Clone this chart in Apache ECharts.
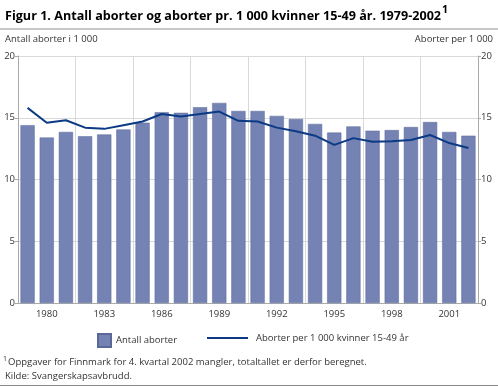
<!DOCTYPE html>
<html><head><meta charset="utf-8">
<script src="https://cdn.jsdelivr.net/npm/echarts@6/dist/echarts.min.js"></script>
<style>html,body{margin:0;padding:0;background:#fff}#c{width:498px;height:386px}</style>
</head><body><div id="c"></div>
<script>
var years = ['1979','1980','1981','1982','1983','1984','1985','1986','1987','1988','1989','1990','1991','1992','1993','1994','1995','1996','1997','1998','1999','2000','2001','2002'];
var antallAborter = [14.4,13.4,13.85,13.5,13.65,14.05,14.6,15.45,15.4,15.85,16.2,15.55,15.55,15.15,14.9,14.5,13.8,14.3,13.95,14.0,14.25,14.65,13.85,13.55];
var aborterPer1000 = [15.8,14.6,14.8,14.2,14.1,14.4,14.7,15.3,15.1,15.3,15.5,14.75,14.7,14.2,13.9,13.55,12.8,13.35,13.05,13.1,13.2,13.6,12.95,12.55];
var yTicks = [0,5,10,15,20];
var FONT = 'Open Sans';
var SMALL = 9.5;
var chart = echarts.init(document.getElementById('c'));
chart.setOption({
  animation:false,
  textStyle:{fontFamily:FONT},
  grid:{left:18,right:20,top:56,bottom:83},
  graphic:[
    {type:'text',left:5,top:5,style:{
      text:'{t|Figur 1. Antall aborter og aborter pr. 1 000 kvinner 15-49 år. 1979-2002}{s|1}',
      rich:{t:{fontFamily:FONT,fontWeight:'bold',fontSize:12.6,fill:'#000',verticalAlign:'bottom',lineHeight:18},
            s:{fontFamily:FONT,fontWeight:'bold',fontSize:10.5,fill:'#000',verticalAlign:'top',padding:[0,0,7,1],lineHeight:18}}}},
    {type:'rect',shape:{x:0,y:28,width:498,height:2},style:{fill:'#c8c8c8'}},
    {type:'text',left:5,top:34,style:{text:'Antall aborter i 1 000',font:SMALL+'px "Open Sans"',fill:'#333'}},
    {type:'text',right:5,top:34,style:{text:'Aborter per 1 000',font:SMALL+'px "Open Sans"',fill:'#333'}},
    {type:'text',left:3,top:355,style:{text:'1',font:'7px "Open Sans"',fill:'#333'}},
    {type:'text',left:8,top:357,style:{text:'Oppgaver for Finnmark for 4. kvartal 2002 mangler, totaltallet er derfor beregnet.',font:SMALL+'px "Open Sans"',fill:'#333'}},
    {type:'text',left:5,top:371,style:{text:'Kilde: Svangerskapsavbrudd.',font:SMALL+'px "Open Sans"',fill:'#333'}},
    {type:'rect',shape:{x:0,y:385,width:498,height:1},style:{fill:'#888'}}
  ],
  legend:[
    {left:92,top:328,itemWidth:13,itemHeight:13,itemGap:6,
     textStyle:{fontSize:SMALL,color:'#333',fontFamily:FONT,padding:[0,0,0,0]},
     data:[{name:'Antall aborter',icon:'rect'}]},
    {left:202,top:328,itemWidth:41,itemHeight:2,
     textStyle:{fontSize:SMALL,color:'#333',fontFamily:FONT,padding:[0,0,0,3]},
     data:[{name:'Aborter per 1 000 kvinner 15-49 år',icon:'rect'}]}
  ],
  xAxis:{
    type:'category',data:years,boundaryGap:true,
    axisLine:{lineStyle:{color:'#aaa'}},
    axisTick:{show:false},
    axisLabel:{interval:function(i){return i%3===1;},color:'#333',fontSize:SMALL,margin:6},
    splitLine:{show:true,interval:function(i){return i%3===0 && i>0;},lineStyle:{color:'#d9d9d9'}}
  },
  yAxis:[
    {type:'value',min:0,max:20,interval:5,position:'left',
     axisLine:{show:true,lineStyle:{color:'#aaa'}},axisTick:{show:true,length:3,lineStyle:{color:'#aaa'}},
     axisLabel:{color:'#333',fontSize:SMALL,margin:3},splitLine:{lineStyle:{color:'#d9d9d9'}}},
    {type:'value',min:0,max:20,interval:5,position:'right',
     axisLine:{show:true,lineStyle:{color:'#aaa'}},axisTick:{show:true,length:3,lineStyle:{color:'#aaa'}},
     axisLabel:{color:'#333',fontSize:SMALL,margin:3},splitLine:{show:false}}
  ],
  series:[
    {name:'Antall aborter',type:'bar',data:antallAborter,barCategoryGap:'26%',
     itemStyle:{color:'#7483b4',borderColor:'#5a6898',borderWidth:0.5}},
    {name:'Aborter per 1 000 kvinner 15-49 år',type:'line',yAxisIndex:1,data:aborterPer1000,
     symbol:'none',lineStyle:{color:'#0c3a84',width:2},itemStyle:{color:'#0c3a84'}}
  ]
});
</script></body></html>
